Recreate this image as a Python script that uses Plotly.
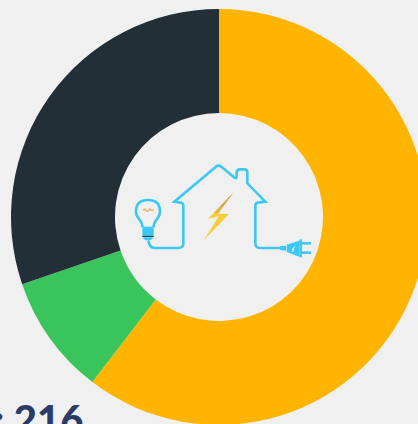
import plotly.graph_objects as go

labels = ["A", "B", "C"]
values = [130.5, 20.2, 65.3]
colors = ["#FFB400", "#39C45C", "#232F36"]
total_label = "Total: 216"

W, H = 438, 434
BG = "#F0F0F0"
BLUE = "#3CC8F4"

def P(zx, zy):
    px = 110 + zx / 3
    py = 150 + zy / 3
    return f"{px / W:.5f},{1 - py / H:.5f}"

def path(cmds):
    s = ""
    for c in cmds:
        s += c if isinstance(c, str) else P(*c) + " "
    return s

def line(cmds, color=BLUE, w=2.6):
    return dict(type="path", xref="paper", yref="paper", path=path(cmds),
                line=dict(color=color, width=w), layer="above")

def fill(cmds, color, w=0):
    return dict(type="path", xref="paper", yref="paper", path=path(cmds),
                fillcolor=color, line=dict(color=color, width=w), layer="above")

shapes = [
    # cord + house
    line(["M", (115, 272), "Q", (117, 294), (135, 294), "L", (205, 294),
          "Q", (220, 294), (220, 280), "L", (220, 168), "Q", (220, 157), (208, 157),
          "L", (193, 155), "L", (318, 50), "Q", (326, 44), (334, 50),
          "L", (372, 82), "Q", (380, 88), (380, 78), "L", (380, 68),
          "Q", (380, 58), (390, 58), "L", (402, 58), "Q", (412, 58), (412, 68),
          "L", (412, 100), "L", (466, 155), "L", (448, 157),
          "Q", (436, 157), (436, 168), "L", (436, 280), "Q", (436, 294), (450, 294),
          "L", (512, 294)]),
    # bulb glass
    line(["M", (97, 232), "Q", (97, 218), (88, 208), "Q", (78, 197), (78, 185),
          "Q", (78, 150), (114, 150), "Q", (150, 150), (150, 185),
          "Q", (150, 197), (140, 208), "Q", (131, 218), (131, 232)]),
    # bulb base
    fill(["M", (97, 230), "L", (131, 230), "L", (131, 257), "L", (97, 257), "Z"], BLUE),
    line(["M", (97, 259), "L", (131, 259)], color="#1F4E63", w=1.3),
    fill(["M", (98, 262), "L", (130, 262), "Q", (128, 270), (120, 271), "L", (108, 271),
          "Q", (100, 270), (98, 262), "Z"], BLUE),
    # filament
    line(["M", (100, 181), "Q", (104, 173), (108, 181), "Q", (112, 187), (116, 181),
          "Q", (120, 173), (124, 181), "L", (131, 180)], color="#E8AE52", w=1.4),
    # lightning
    fill(["M", (369, 129), "L", (294, 207), "L", (327, 198), "L", (282, 270),
          "L", (357, 192), "L", (324, 191), "Z"], "#F6CE33"),
    fill(["M", (369, 129), "L", (312, 188), "L", (326, 188), "Z"], "#DDB64A"),
    fill(["M", (369, 129), "L", (330, 170), "L", (338, 170), "Z"], "#C9A45A"),
    # plug
    fill(["M", (510, 289), "L", (528, 287), "L", (528, 302), "L", (510, 300), "Z"], BLUE),
    fill(["M", (530, 284), "L", (568, 272), "L", (568, 320), "L", (530, 306), "Z"], BLUE),
    line(["M", (572, 268), "L", (572, 322)]),
    line(["M", (572, 280), "L", (603, 280)]),
    line(["M", (572, 308), "L", (603, 308)]),
    line(["M", (556, 290), "L", (546, 298), "L", (552, 299), "L", (546, 306)], color="#EAF8FE", w=1.0),
]

fig = go.Figure(go.Pie(
    labels=labels,
    values=values,
    hole=0.5,
    sort=False,
    direction="clockwise",
    rotation=0,
    textinfo="none",
    hoverinfo="label+value",
    marker=dict(colors=colors, line=dict(width=0)),
    domain=dict(x=[11 / W, 427 / W], y=[9 / H, 425 / H]),
    showlegend=False,
))

fig.update_layout(
    width=W,
    height=H,
    autosize=False,
    margin=dict(l=0, r=0, t=0, b=0),
    paper_bgcolor=BG,
    plot_bgcolor=BG,
    shapes=shapes,
    annotations=[dict(
        text=total_label,
        x=84 / W, y=1 - 394 / H,
        xref="paper", yref="paper",
        xanchor="right", yanchor="top",
        showarrow=False,
        borderpad=0,
        font=dict(family="Lato, 'Open Sans', sans-serif", size=40, weight=900, color="#2B3A67"),
    )],
)

fig.write_html(
    "out.html",
    config={"displayModeBar": False},
    post_script="document.body.style.margin='0';document.body.style.overflow='hidden';"
                "document.documentElement.style.overflow='hidden';"
                "document.documentElement.style.background='#F0F0F0';",
)
